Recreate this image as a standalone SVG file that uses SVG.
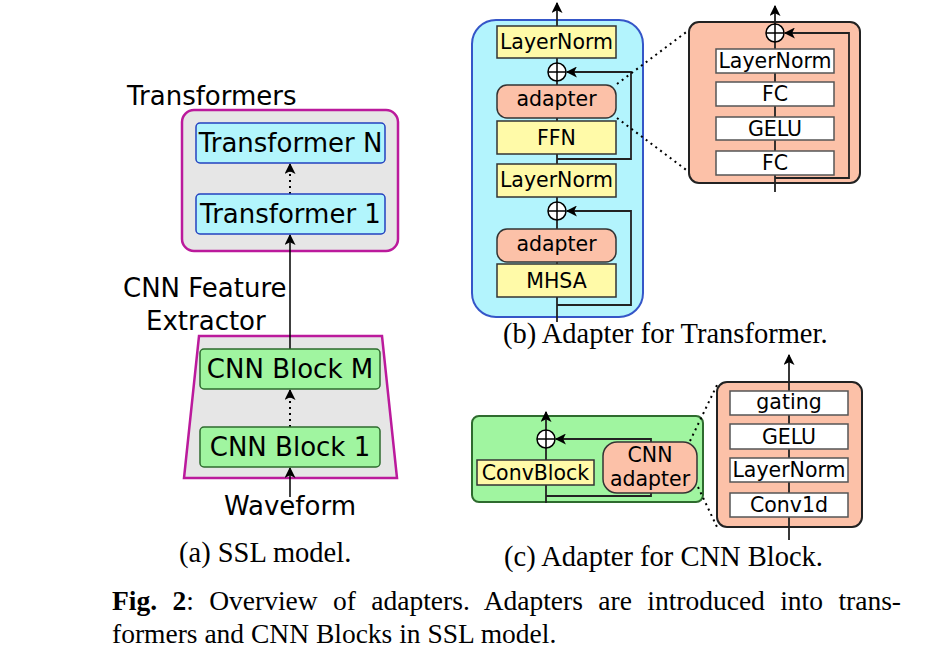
<svg xmlns="http://www.w3.org/2000/svg" width="930" height="656" viewBox="0 0 930 656">
<defs>
<marker id="ah2" viewBox="0 0 10 10" refX="9" refY="5" markerWidth="11" markerHeight="11" orient="auto" markerUnits="userSpaceOnUse">
<path d="M0,0 L10,5 L0,10 L2.5,5 Z" fill="#000"/>
</marker>
<style>
.sans{font-family:"DejaVu Sans","Verdana",sans-serif;fill:#000}
.s25{font-size:26px}
.s20{font-size:20.5px}
.serif{font-family:"Liberation Serif","Times New Roman",serif;fill:#000}
.cap{font-size:28.5px}
.mag{fill:#e6e6e6;stroke:#bb1a9c;stroke-width:2.5}
.tr{fill:#b2f5fc;stroke:#2342c0;stroke-width:1.5}
.cnn{fill:#a0f5a0;stroke:#2e6b2e;stroke-width:1.5}
.yel{fill:#fffaa8;stroke:#333;stroke-width:1.5}
.sal{fill:#fcc1a8;stroke:#333;stroke-width:1.5}
.wht{fill:#fff;stroke:#555;stroke-width:1.5}
.ln{fill:none;stroke:#000;stroke-width:1.5}
.sk{fill:none;stroke:#222;stroke-width:1.8}
.dot{fill:none;stroke:#000;stroke-width:2;stroke-dasharray:2 4}
.circ{fill:#fff;stroke:#000;stroke-width:1.5}
</style>
</defs>

<!-- Panel (a) containers -->
<g id="transformers-group">
<rect class="mag" x="182" y="110" width="216" height="141" rx="12"/>
<text class="sans s25" x="127" y="105">Transformers</text>
</g>
<g id="cnn-group">
<polygon class="mag" points="199,336 382,336 397,478 184,478"/>
<text class="sans s25" x="123" y="297">CNN Feature</text>
<text class="sans s25" x="146" y="330">Extractor</text>
</g>
<g id="panel-b">
<rect x="472" y="20" width="171" height="297" rx="24" fill="#b3f4fd" stroke="#3556c8" stroke-width="2"/>
</g>
<g id="adapter-detail">
<rect x="689" y="22" width="171" height="161" rx="10" fill="#fcc1a8" stroke="#222" stroke-width="2"/>
</g>
<g id="panel-c">
<rect x="472" y="416" width="231" height="86" rx="7" fill="#a0f5a0" stroke="#2e6b2e" stroke-width="2"/>
</g>
<g id="cnn-adapter-detail">
<rect x="717" y="382" width="145" height="145" rx="10" fill="#fcc1a8" stroke="#222" stroke-width="2"/>
</g>

<g id="connectors">
<line class="ln" x1="290" y1="349" x2="290" y2="235" marker-end="url(#ah2)"/>
<line class="dot" x1="290" y1="194" x2="290" y2="166" stroke-width="1.5"/>
<line class="ln" x1="290" y1="172" x2="290" y2="164" marker-end="url(#ah2)" stroke-width="0.1"/>
<line class="dot" x1="290" y1="427" x2="290" y2="392" stroke-width="1.5"/>
<line class="ln" x1="290" y1="398" x2="290" y2="390" marker-end="url(#ah2)" stroke-width="0.1"/>
<line class="ln" x1="290" y1="497" x2="290" y2="468" marker-end="url(#ah2)"/>

<line class="sk" x1="557" y1="322" x2="557" y2="3" marker-end="url(#ah2)"/>
<path class="sk" d="M557,159 H631 V72 H567" marker-end="url(#ah2)"/>
<path class="sk" d="M557,305 H631 V211 H567" marker-end="url(#ah2)"/>
<line class="dot" x1="617" y1="84" x2="689" y2="30"/>
<line class="dot" x1="617" y1="118" x2="689" y2="172"/>

<line class="sk" x1="775" y1="192" x2="775" y2="6" marker-end="url(#ah2)"/>
<path class="sk" d="M775,178 H849 V33 H785" marker-end="url(#ah2)"/>

<line class="sk" x1="546" y1="503" x2="546" y2="412" marker-end="url(#ah2)"/>
<path class="sk" d="M546,496 H651 V439 H556" marker-end="url(#ah2)"/>
<line class="dot" x1="690" y1="441" x2="718" y2="383"/>
<line class="dot" x1="698" y1="487" x2="717" y2="527"/>

<line class="sk" x1="789" y1="540" x2="789" y2="355" marker-end="url(#ah2)"/>
</g>

<g id="transformer-n">
<rect class="tr" x="196" y="123" width="189" height="40" rx="4"/>
<text class="sans s25" x="290.5" y="152" text-anchor="middle">Transformer N</text>
</g>
<g id="transformer-1">
<rect class="tr" x="196" y="194" width="189" height="40" rx="4"/>
<text class="sans s25" x="290.5" y="223" text-anchor="middle">Transformer 1</text>
</g>
<g id="cnn-block-m">
<rect class="cnn" x="200" y="349" width="180" height="40" rx="4"/>
<text class="sans s25" x="290" y="378" text-anchor="middle">CNN Block M</text>
</g>
<g id="cnn-block-1">
<rect class="cnn" x="200" y="427" width="180" height="40" rx="4"/>
<text class="sans s25" x="290" y="456" text-anchor="middle">CNN Block 1</text>
</g>
<g id="waveform">
<text class="sans s25" x="290" y="515" text-anchor="middle">Waveform</text>
</g>
<text class="serif cap" x="179" y="562">(a) SSL model.</text>

<g id="b-layernorm-top">
<rect class="yel" x="497" y="26" width="119" height="32"/>
<text class="sans s20" x="556.5" y="49" text-anchor="middle">LayerNorm</text>
</g>
<g id="b-add-1">
<circle class="circ" cx="557" cy="72" r="9"/>
<path class="ln" d="M548,72 H566 M557,63 V81"/>
</g>
<g id="b-adapter-1">
<rect class="sal" x="497" y="85" width="119" height="33" rx="10"/>
<text class="sans s20" x="556.5" y="106" text-anchor="middle">adapter</text>
</g>
<g id="b-ffn">
<rect class="yel" x="497" y="121" width="119" height="33"/>
<text class="sans s20" x="556.5" y="145" text-anchor="middle">FFN</text>
</g>
<g id="b-layernorm-2">
<rect class="yel" x="497" y="164" width="119" height="33"/>
<text class="sans s20" x="556.5" y="187" text-anchor="middle">LayerNorm</text>
</g>
<g id="b-add-2">
<circle class="circ" cx="557" cy="211" r="9"/>
<path class="ln" d="M548,211 H566 M557,202 V220"/>
</g>
<g id="b-adapter-2">
<rect class="sal" x="497" y="229" width="119" height="33" rx="10"/>
<text class="sans s20" x="556.5" y="251" text-anchor="middle">adapter</text>
</g>
<g id="b-mhsa">
<rect class="yel" x="497" y="264" width="119" height="33"/>
<text class="sans s20" x="556.5" y="288" text-anchor="middle">MHSA</text>
</g>
<text class="serif cap" x="503" y="343">(b) Adapter for Transformer.</text>

<g id="ad-add">
<circle class="circ" cx="775" cy="33" r="9"/>
<path class="ln" d="M766,33 H784 M775,24 V42"/>
</g>
<g id="ad-layernorm">
<rect class="wht" x="716" y="49" width="118" height="24"/>
<text class="sans s20" x="775" y="68" text-anchor="middle">LayerNorm</text>
</g>
<g id="ad-fc-1">
<rect class="wht" x="716" y="82" width="118" height="24"/>
<text class="sans s20" x="775" y="101" text-anchor="middle">FC</text>
</g>
<g id="ad-gelu">
<rect class="wht" x="716" y="117" width="118" height="23"/>
<text class="sans s20" x="775" y="136" text-anchor="middle">GELU</text>
</g>
<g id="ad-fc-2">
<rect class="wht" x="716" y="151" width="118" height="24"/>
<text class="sans s20" x="775" y="170" text-anchor="middle">FC</text>
</g>

<g id="c-add">
<circle class="circ" cx="546" cy="439" r="9"/>
<path class="ln" d="M537,439 H555 M546,430 V448"/>
</g>
<g id="c-convblock">
<rect class="yel" x="477" y="460" width="117" height="25"/>
<text class="sans s20" x="535.5" y="480" text-anchor="middle">ConvBlock</text>
</g>
<g id="c-cnn-adapter">
<rect class="sal" x="603" y="442" width="94" height="51" rx="14"/>
<text class="sans s20" x="650" y="462" text-anchor="middle">CNN</text>
<text class="sans s20" x="650" y="486" text-anchor="middle">adapter</text>
</g>

<g id="cd-gating">
<rect class="wht" x="730" y="391" width="118" height="24"/>
<text class="sans s20" x="789" y="409" text-anchor="middle">gating</text>
</g>
<g id="cd-gelu">
<rect class="wht" x="730" y="424" width="118" height="25"/>
<text class="sans s20" x="789" y="444" text-anchor="middle">GELU</text>
</g>
<g id="cd-layernorm">
<rect class="wht" x="730" y="458" width="118" height="24"/>
<text class="sans s20" x="789" y="477" text-anchor="middle">LayerNorm</text>
</g>
<g id="cd-conv1d">
<rect class="wht" x="730" y="493" width="118" height="24"/>
<text class="sans s20" x="789" y="512" text-anchor="middle">Conv1d</text>
</g>
<text class="serif cap" x="504" y="566">(c) Adapter for CNN Block.</text>

<text class="serif" font-size="27.5" x="112" y="610" word-spacing="8.5"><tspan font-weight="bold">Fig. 2</tspan>: Overview of adapters. Adapters are introduced into trans-</text>
<text class="serif" font-size="27.5" x="112" y="643">formers and CNN Blocks in SSL model.</text>
</svg>
